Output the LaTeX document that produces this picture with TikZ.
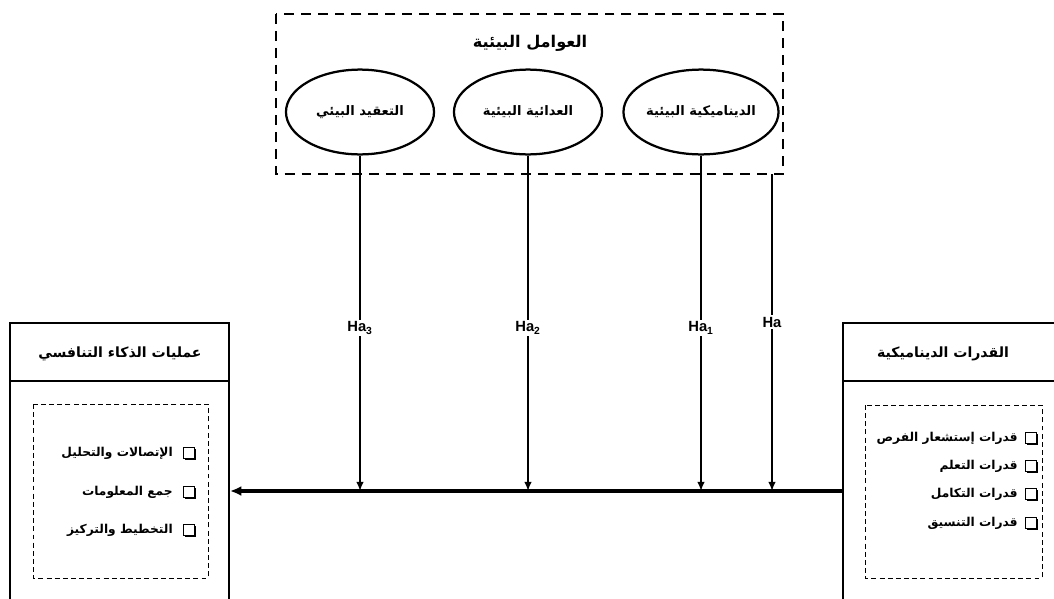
\documentclass[tikz,border=0pt]{standalone}
\usepackage{fontspec}
\setsansfont{Liberation Sans}
\newfontfamily\arabicfont[Script=Arabic]{DejaVu Sans}
\TeXXeTstate=1
\usetikzlibrary{arrows.meta,shapes.geometric,shadows}
\newcommand{\artext}[1]{{\arabicfont\bfseries\beginR #1\endR}}
\newcommand{\boxwd}{1.6pt}

\begin{document}
\begin{tikzpicture}[x=0.025cm,y=-0.025cm,
    factor/.style={draw, ellipse, line width=\boxwd, fill=white, minimum width=3.7cm, minimum height=2.12cm, inner sep=0pt, font=\fontsize{9.3}{11}\selectfont},
    title/.style={font=\fontsize{10}{12}\selectfont},
    item/.style={anchor=east, inner sep=0pt, font=\fontsize{8.7}{10}\selectfont},
    tick/.style={draw, fill=white, minimum size=7.5pt, inner sep=0pt, line width=.8pt,
        drop shadow={opacity=1, fill=black, shadow xshift=1.2pt, shadow yshift=-1.2pt}},
    hyp/.style={fill=white, inner sep=1.5pt, font=\sffamily\bfseries\fontsize{10.5}{12}\selectfont},
    arr/.style={line width=1.5pt, -{Latex[length=6.5pt,width=5.5pt]}}
  ]
    \useasboundingbox (0,0) rectangle (1054,599);

    % environment factors
    \draw[line width=\boxwd, dash pattern=on 7pt off 5pt] (276,14) rectangle (783,174);
    \node (envtitle) at (530,43) [title, font=\fontsize{11.5}{13}\selectfont] {\artext{العوامل البيئية}};
    \node (e1) at (701,112) [factor] {\artext{الديناميكية البيئية}};
    \node (e2) at (528,112) [factor] {\artext{العدائية البيئية}};
    \node (e3) at (360,112) [factor] {\artext{التعقيد البيئي}};

    % competitive intelligence (left)
    \draw[line width=\boxwd] (10,610) -- (10,323) -- (229,323) -- (229,610)
        (10,381) -- (229,381);
    \node (cititle) at (120,354) [title] {\artext{عمليات الذكاء التنافسي}};
    \draw[line width=.7pt, dash pattern=on 3.5pt off 2.3pt] (33,404) rectangle (208,578);
    \node (ci1) at (173,453) [item] {\artext{الإتصالات والتحليل}};
    \node (ci2) at (173,492) [item] {\artext{جمع المعلومات}};
    \node (ci3) at (173,530) [item] {\artext{التخطيط والتركيز}};
    \node (ck1) at (189,453) [tick] {};
    \node (ck2) at (189,492) [tick] {};
    \node (ck3) at (189,530) [tick] {};

    % dynamic capabilities (right)
    \draw[line width=\boxwd] (843,610) -- (843,323) -- (1060,323)
        (843,381) -- (1060,381);
    \node (dctitle) at (943,354) [title] {\artext{القدرات الديناميكية}};
    \draw[line width=.7pt, dash pattern=on 3.5pt off 2.3pt] (865,405) rectangle (1042,578);
    \node (dc1) at (1018,438) [item] {\artext{قدرات إستشعار الفرص}};
    \node (dc2) at (1018,466) [item] {\artext{قدرات التعلم}};
    \node (dc3) at (1018,494) [item] {\artext{قدرات التكامل}};
    \node (dc4) at (1018,523) [item] {\artext{قدرات التنسيق}};
    \node (dk1) at (1031,438) [tick] {};
    \node (dk2) at (1031,466) [tick] {};
    \node (dk3) at (1031,494) [tick] {};
    \node (dk4) at (1031,523) [tick] {};

    % links
    \coordinate (dcout) at (843,491);
    \coordinate (ciin) at (230,491);
    \coordinate (envout) at (772,174);
    \coordinate (t0) at (772,491);
    \coordinate (t1) at (701,491);
    \coordinate (t2) at (528,491);
    \coordinate (t3) at (360,491);

    \draw[line width=2.3pt, -{Latex[length=8pt,width=7pt]}] (dcout) to (ciin);
    \draw[arr] (envout) to (t0);
    \draw[arr] (e1) to (t1);
    \draw[arr] (e2) to (t2);
    \draw[arr] (e3) to (t3);

    \node (h0) at (772,322) [hyp] {Ha};
    \node (h1) at (701,328) [hyp] {Ha\textsubscript{1}};
    \node (h2) at (528,328) [hyp] {Ha\textsubscript{2}};
    \node (h3) at (360,328) [hyp] {Ha\textsubscript{3}};
\end{tikzpicture}
\end{document}
